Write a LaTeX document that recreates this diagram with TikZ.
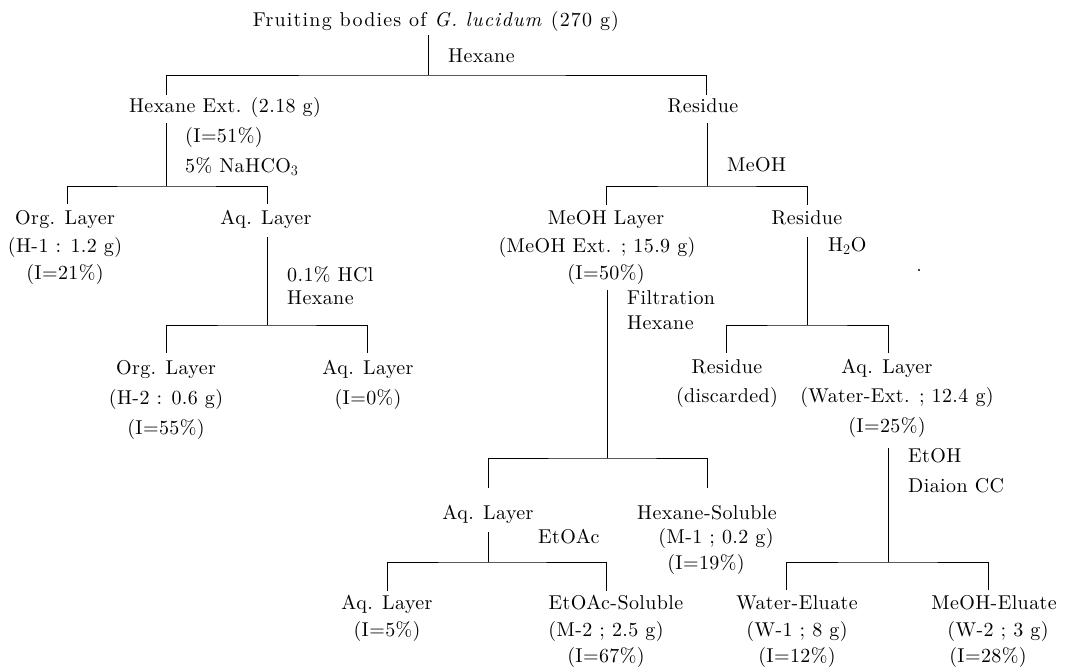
\documentclass[tikz,border=0pt]{standalone}
\usepackage{fontspec}
\setmainfont{lmroman10-regular}[Extension=.otf, LetterSpace=2, ItalicFont=lmroman10-italic, BoldFont=lmroman10-bold]
\newfontfamily\rootfont{lmroman10-regular}[Extension=.otf, LetterSpace=6, ItalicFont=lmroman10-italic]
\begin{document}
\begin{tikzpicture}[x=1pt,y=-1pt,
  lbl/.style={inner sep=0pt, text height=14.5pt, text depth=5pt, font=\fontsize{20}{24}\selectfont},
  ln/.style={line width=0.8pt}]
\useasboundingbox (0,0) rectangle (1081,667);
% ---------- top ----------
\node[lbl] (root) at (436,22) {\rootfont Fruiting bodies of \textit{G. lucidum} (270 g)};
\node[lbl,anchor=west] (hexA) at (448,58) {Hexane};
\coordinate (s1t) at (428,35); \coordinate (s1) at (428,75);
\coordinate (s1l) at (166,95); \coordinate (s1r) at (706,95);
\draw[ln] (s1t) -- (s1); \draw[ln] (s1l) |- (s1) -| (s1r);
% ---------- hexane ext ----------
\node[lbl] (hexext) at (225,108) {Hexane Ext. (2.18 g)};
\node[lbl,anchor=west] (hexextI) at (185,138) {(I=51\%)};
\node[lbl,anchor=west] (nahco) at (185,168) {5\% NaHCO$_3$};
\coordinate (s2t) at (166,123); \coordinate (s2) at (166,186);
\coordinate (s2l) at (67,204); \coordinate (s2r) at (267,204);
\draw[ln] (s2t) -- (s2); \draw[ln] (s2l) |- (s2) -| (s2r);
\node[lbl] (orgA) at (65,220) {Org. Layer};
\node[lbl] (orgAm) at (65,248) {(H-1 : 1.2 g)};
\node[lbl] (orgAI) at (65,275) {(I=21\%)};
\node[lbl] (aqA) at (266,220) {Aq. Layer};
\node[lbl,anchor=west] (hcl) at (287,277) {0.1\% HCl};
\node[lbl,anchor=west] (hexB) at (287,300) {Hexane};
\coordinate (s3t) at (267,237); \coordinate (s3) at (267,325);
\coordinate (s3l) at (166,353); \coordinate (s3r) at (367,353);
\draw[ln] (s3t) -- (s3); \draw[ln] (s3l) |- (s3) -| (s3r);
\node[lbl] (orgB) at (166,370) {Org. Layer};
\node[lbl] (orgBm) at (166,400) {(H-2 : 0.6 g)};
\node[lbl] (orgBI) at (166,430) {(I=55\%)};
\node[lbl] (aqB) at (368,370) {Aq. Layer};
\node[lbl] (aqBI) at (368,400) {(I=0\%)};
% ---------- residue ----------
\node[lbl] (res1) at (703,108) {Residue};
\node[lbl,anchor=west] (meohA) at (727,167) {MeOH};
\coordinate (s4t) at (707,123); \coordinate (s4) at (707,186);
\coordinate (s4l) at (606,205); \coordinate (s4r) at (807,205);
\draw[ln] (s4t) -- (s4); \draw[ln] (s4l) |- (s4) -| (s4r);
\node[lbl] (meohL) at (606,220) {MeOH Layer};
\node[lbl] (meohLm) at (597,248) {(MeOH Ext. ; 15.9 g)};
\node[lbl] (meohLI) at (606,275) {(I=50\%)};
\node[lbl,anchor=west] (filt) at (627,300) {Filtration};
\node[lbl,anchor=west] (hexC) at (627,325) {Hexane};
\coordinate (s5t) at (607,290); \coordinate (s5) at (607,458);
\coordinate (s5l) at (488,488); \coordinate (s5r) at (707,488);
\draw[ln] (s5t) -- (s5); \draw[ln] (s5l) |- (s5) -| (s5r);
\node[lbl] (aqC) at (488,515) {Aq. Layer};
\node[lbl,anchor=west] (etoac) at (538,539) {EtOAc};
\node[lbl] (hexsol) at (707,515) {Hexane-Soluble};
\node[lbl] (hexsolm) at (716,539) {(M-1 ; 0.2 g)};
\node[lbl] (hexsolI) at (706,565) {(I=19\%)};
\coordinate (s6t) at (488,532); \coordinate (s6) at (488,562);
\coordinate (s6l) at (387,591); \coordinate (s6r) at (606,591);
\draw[ln] (s6t) -- (s6); \draw[ln] (s6l) |- (s6) -| (s6r);
\node[lbl] (aqD) at (387,605) {Aq. Layer};
\node[lbl] (aqDI) at (387,632) {(I=5\%)};
\node[lbl] (etsol) at (616,605) {EtOAc-Soluble};
\node[lbl] (etsolm) at (606,632) {(M-2 ; 2.5 g)};
\node[lbl] (etsolI) at (606,658) {(I=67\%)};
% ---------- residue 2 ----------
\node[lbl] (res2) at (807,220) {Residue};
\node[lbl,anchor=west] (water) at (828,247) {H$_2$O};
\fill (919,270) circle (1.1pt);
\coordinate (s7t) at (807,237); \coordinate (s7) at (807,325);
\coordinate (s7l) at (726,353); \coordinate (s7r) at (888,353);
\draw[ln] (s7t) -- (s7); \draw[ln] (s7l) |- (s7) -| (s7r);
\node[lbl] (resD) at (727,369) {Residue};
\node[lbl] (resDd) at (727,398) {(discarded)};
\node[lbl] (aqE) at (887,369) {Aq. Layer};
\node[lbl] (aqEm) at (897,398) {(Water-Ext. ; 12.4 g)};
\node[lbl] (aqEI) at (887,428) {(I=25\%)};
\node[lbl,anchor=west] (etoh) at (908,458) {EtOH};
\node[lbl,anchor=west] (diaion) at (908,488) {Diaion CC};
\coordinate (s8t) at (888,448); \coordinate (s8) at (888,562);
\coordinate (s8l) at (786,590); \coordinate (s8r) at (988,590);
\draw[ln] (s8t) -- (s8); \draw[ln] (s8l) |- (s8) -| (s8r);
\node[lbl] (we) at (797,605) {Water-Eluate};
\node[lbl] (wem) at (797,632) {(W-1 ; 8 g)};
\node[lbl] (weI) at (797,658) {(I=12\%)};
\node[lbl] (me) at (994,605) {MeOH-Eluate};
\node[lbl] (mem) at (998,632) {(W-2 ; 3 g)};
\node[lbl] (meI) at (988,658) {(I=28\%)};
\end{tikzpicture}
\end{document}
